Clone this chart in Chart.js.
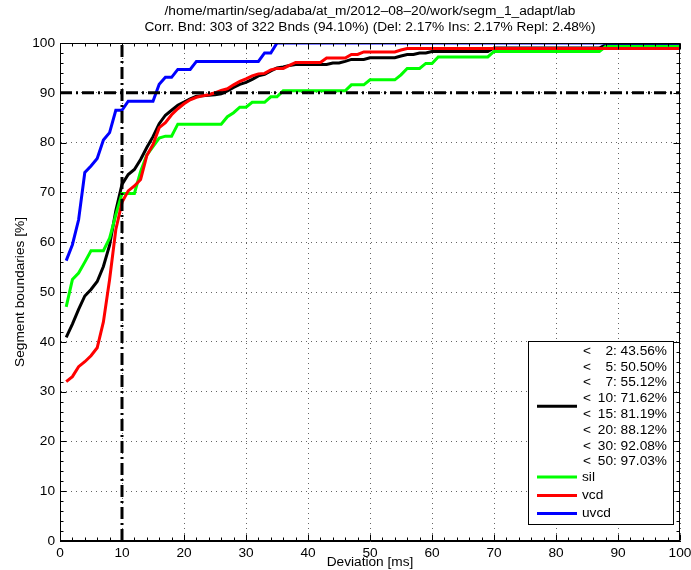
<!DOCTYPE html>
<html>
<head>
<meta charset="utf-8">
<title>Segment boundaries</title>
<script src="https://cdn.jsdelivr.net/npm/chart.js@4.4.1/dist/chart.umd.min.js"></script>
<style>
  body { margin: 0; background: #fff; }
  canvas { display: block; }
</style>
</head>
<body>
<canvas id="grafico" width="691" height="570"></canvas>
<script>
const titleLines = [
  '/home/martin/seg/adaba/at_m/2012\u201308\u201320/work/segm_1_adapt/lab',
  'Corr. Bnd: 303 of 322 Bnds (94.10%) (Del: 2.17% Ins: 2.17% Repl: 2.48%)'
];

// deviation in ms, one point per millisecond
const deviations = Array.from({ length: 100 }, (_, i) => i + 1);

// cumulative share of boundaries [%] within the deviation
const total = [
  40.9, 43.56, 46.5, 49.2, 50.50, 52.1, 55.12, 59.4, 66.3, 71.62,
  73.6, 74.6, 76.6, 79.0, 81.19, 83.8, 85.5, 86.5, 87.5, 88.12,
  88.8, 89.3, 89.4, 89.5, 89.6, 89.8, 90.4, 91.1, 91.7, 92.08,
  92.7, 93.4, 93.7, 94.4, 95.0, 95.2, 95.5, 95.7, 95.7, 95.7,
  95.7, 95.7, 95.7, 96.0, 96.0, 96.3, 96.7, 96.7, 96.7, 97.03,
  97.03, 97.03, 97.03, 97.03, 97.4, 97.7, 97.7, 98.0, 98.0, 98.3,
  98.3, 98.3, 98.3, 98.3, 98.3, 98.3, 98.3, 98.3, 98.3, 99.0,
  99.0, 99.0, 99.0, 99.0, 99.0, 99.0, 99.0, 99.0, 99.0, 99.0,
  99.0, 99.0, 99.0, 99.0, 99.0, 99.0, 99.0, 99.67, 99.67, 99.67,
  99.67, 99.67, 99.67, 99.67, 99.67, 99.67, 99.67, 99.67, 99.67, 99.67
];
const sil = [
  47.0, 52.5, 53.8, 56.0, 58.3, 58.3, 58.3, 60.8, 65.5, 69.8,
  69.8, 69.8, 74.2, 77.5, 79.2, 80.9, 81.3, 81.3, 83.7, 83.7,
  83.7, 83.7, 83.7, 83.7, 83.7, 83.7, 85.2, 86.0, 87.1, 87.1,
  88.1, 88.1, 88.1, 89.2, 89.2, 90.4, 90.4, 90.4, 90.4, 90.4,
  90.4, 90.4, 90.4, 90.4, 90.4, 90.4, 91.6, 91.6, 91.6, 92.6,
  92.6, 92.6, 92.6, 92.6, 93.6, 94.9, 94.9, 94.9, 95.9, 95.9,
  97.2, 97.2, 97.2, 97.2, 97.2, 97.2, 97.2, 97.2, 97.2, 98.3,
  98.3, 98.3, 98.3, 98.3, 98.3, 98.3, 98.3, 98.3, 98.3, 98.3,
  98.3, 98.3, 98.3, 98.3, 98.3, 98.3, 98.3, 99.3, 99.3, 99.3,
  99.3, 99.3, 99.3, 99.3, 99.3, 99.3, 99.3, 99.3, 99.3, 99.3
];
const vcd = [
  32.0, 33.0, 35.0, 36.0, 37.2, 38.8, 44.0, 52.5, 62.5, 68.0,
  70.3, 71.3, 72.6, 77.4, 79.6, 83.0, 84.0, 85.6, 86.8, 87.8,
  88.6, 89.1, 89.4, 89.6, 90.0, 90.5, 90.8, 91.6, 92.3, 92.8,
  93.4, 93.8, 93.9, 94.6, 94.9, 94.9, 95.5, 96.1, 96.1, 96.1,
  96.1, 96.1, 97.0, 97.0, 97.0, 97.0, 97.7, 97.7, 98.2, 98.2,
  98.2, 98.2, 98.2, 98.2, 98.6, 98.9, 98.9, 98.9, 98.9, 98.9,
  98.9, 98.9, 98.9, 98.9, 98.9, 98.9, 98.9, 98.9, 98.9, 98.9,
  98.9, 98.9, 98.9, 98.9, 98.9, 98.9, 98.9, 98.9, 98.9, 98.9,
  98.9, 98.9, 98.9, 98.9, 98.9, 98.9, 98.9, 98.9, 98.9, 98.9,
  98.9, 98.9, 98.9, 98.9, 98.9, 98.9, 98.9, 98.9, 98.9, 98.9
];
const uvcd = [
  56.3, 59.5, 64.5, 74.0, 75.3, 76.8, 80.5, 82.0, 86.5, 86.5,
  88.3, 88.3, 88.3, 88.3, 88.3, 91.7, 93.1, 93.1, 94.7, 94.7,
  94.7, 96.3, 96.3, 96.3, 96.3, 96.3, 96.3, 96.3, 96.3, 96.3,
  96.3, 96.3, 98.0, 98.0, 100, 100, 100, 100, 100, 100,
  100, 100, 100, 100, 100, 100, 100, 100, 100, 100,
  100, 100, 100, 100, 100, 100, 100, 100, 100, 100,
  100, 100, 100, 100, 100, 100, 100, 100, 100, 100,
  100, 100, 100, 100, 100, 100, 100, 100, 100, 100,
  100, 100, 100, 100, 100, 100, 100, 100, 100, 100,
  100, 100, 100, 100, 100, 100, 100, 100, 100, 100
];

// summary rows of the legend (total curve)
const legendDev = [2, 5, 7, 10, 15, 20, 30, 50];
const legendPct = [43.56, 50.50, 55.12, 71.62, 81.19, 88.12, 92.08, 97.03];

const refDeviation = 10;
const refPercent = 90;

const FONT = "'Liberation Sans', Arial, Helvetica, sans-serif";
const FSIZE = 13.7;

function pts(values) {
  return values.map((v, i) => ({ x: deviations[i], y: v }));
}

// box, inward ticks, title and legend in the matlab look
const matlabFrame = {
  id: 'matlabFrame',
  afterDraw(chart) {
    const { ctx, chartArea: a, scales: { x, y } } = chart;
    const L = Math.round(a.left) + 0.5, R = Math.round(a.right) - 0.5;
    const T = Math.round(a.top) + 0.5, B = Math.round(a.bottom) - 0.5;
    ctx.save();
    ctx.strokeStyle = '#000';
    ctx.lineWidth = 1;
    ctx.strokeRect(L, T, R - L, B - T);

    ctx.beginPath();
    for (let v = 0; v <= 100; v += 2) {
      const len = v % 10 === 0 ? 6 : 3;
      const px = Math.round(x.getPixelForValue(v)) + 0.5;
      ctx.moveTo(px, B); ctx.lineTo(px, B - len);
      ctx.moveTo(px, T); ctx.lineTo(px, T + len);
      const py = Math.round(y.getPixelForValue(v)) + 0.5;
      ctx.moveTo(L, py); ctx.lineTo(L + len, py);
      ctx.moveTo(R, py); ctx.lineTo(R - len, py);
    }
    ctx.stroke();

    // title
    ctx.fillStyle = '#000';
    ctx.font = FSIZE + 'px ' + FONT;
    ctx.textAlign = 'center';
    ctx.textBaseline = 'middle';
    const cx = (a.left + a.right) / 2;
    ctx.fillText(titleLines[0], cx, 11);
    ctx.fillText(titleLines[1], cx, 27);

    // legend
    const lx = a.right - 152, ly = a.bottom - 200;
    const lw = 145, lh = 183;
    ctx.fillStyle = '#fff';
    ctx.fillRect(lx, ly, lw, lh);
    ctx.strokeRect(Math.round(lx) + 0.5, Math.round(ly) + 0.5, lw, lh);

    ctx.fillStyle = '#000';
    ctx.textBaseline = 'middle';
    const rowY = legendDev.map((_, i) => ly + 10 + i * 15.8);
    legendDev.forEach((d, i) => {
      ctx.textAlign = 'left';
      ctx.fillText('<', lx + 55, rowY[i]);
      ctx.textAlign = 'right';
      ctx.fillText(String(d), lx + 85, rowY[i]);
      ctx.textAlign = 'left';
      ctx.fillText(': ' + legendPct[i].toFixed(2) + '%', lx + 85, rowY[i]);
    });

    const items = [
      { color: '#000000', y: (rowY[0] + rowY[rowY.length - 1]) / 2, text: '' },
      { color: '#00ff00', y: ly + 136, text: 'sil' },
      { color: '#ff0000', y: ly + 154.5, text: 'vcd' },
      { color: '#0000ff', y: ly + 172.5, text: 'uvcd' }
    ];
    ctx.lineWidth = 3;
    items.forEach(it => {
      ctx.strokeStyle = it.color;
      ctx.beginPath();
      ctx.moveTo(lx + 9, it.y);
      ctx.lineTo(lx + 49, it.y);
      ctx.stroke();
      ctx.textAlign = 'left';
      ctx.fillText(it.text, lx + 54, it.y);
    });
    ctx.restore();
  }
};

const gridStyle = { color: 'rgba(0,0,0,0.6)', lineWidth: 1, drawTicks: false };
const borderStyle = { display: true, color: '#000', width: 1, dash: [1, 4] };
const tickFont = { family: FONT, size: FSIZE };
const refDash = [12, 4, 2, 4];

const ctx = document.getElementById('grafico').getContext('2d');
new Chart(ctx, {
  type: 'line',
  data: {
    datasets: [
      { label: 'ref', data: [{ x: 0, y: refPercent }, { x: 100, y: refPercent }],
        borderColor: '#000', borderDash: refDash, borderWidth: 3, order: 0 },
      { label: 'ref', data: [{ x: refDeviation, y: 0 }, { x: refDeviation, y: 100 }],
        borderColor: '#000', borderDash: refDash, borderWidth: 3, order: 0 },
      { label: 'uvcd', data: pts(uvcd), borderColor: '#0000ff', order: 1 },
      { label: 'vcd', data: pts(vcd), borderColor: '#ff0000', order: 2 },
      { label: 'sil', data: pts(sil), borderColor: '#00ff00', order: 3 },
      { label: 'total', data: pts(total), borderColor: '#000000', order: 4 }
    ]
  },
  options: {
    responsive: false,
    animation: false,
    layout: { padding: { top: 43, right: 11, left: 0, bottom: 0 } },
    datasets: {
      line: { borderWidth: 3, pointRadius: 0, tension: 0, fill: false }
    },
    plugins: {
      legend: { display: false },
      tooltip: { enabled: false }
    },
    scales: {
      x: {
        type: 'linear', min: 0, max: 100,
        ticks: { stepSize: 10, color: '#000', font: tickFont, padding: 4, maxRotation: 0 },
        grid: gridStyle,
        border: borderStyle,
        title: { display: true, text: 'Deviation [ms]', color: '#000',
                 font: { family: FONT, size: FSIZE, lineHeight: 1.1 },
                 padding: { top: 0, bottom: 0 } },
        afterFit(scale) {
          scale.height = 29;
          scale.paddingLeft = 0;
          scale.paddingRight = 0;
        }
      },
      y: {
        type: 'linear', min: 0, max: 100,
        ticks: { stepSize: 10, color: '#000', font: tickFont, padding: 5 },
        grid: gridStyle,
        border: borderStyle,
        title: { display: true, text: 'Segment boundaries [%]', color: '#000', font: tickFont,
                 padding: { top: 12, bottom: 0 } },
        afterFit(scale) { scale.width = 60; }
      }
    }
  },
  plugins: [matlabFrame]
});
</script>
</body>
</html>
